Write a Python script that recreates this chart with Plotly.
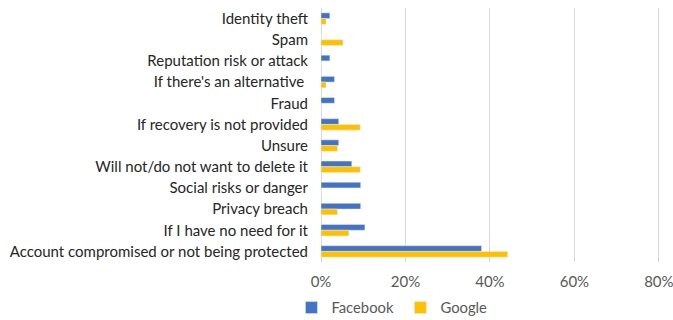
import plotly.graph_objects as go

categories = [
    "Identity theft",
    "Spam",
    "Reputation risk or attack",
    "If there's an alternative ",
    "Fraud",
    "If recovery is not provided",
    "Unsure",
    "Will not/do not want to delete it",
    "Social risks or danger",
    "Privacy breach",
    "If I have no need for it",
    "Account compromised or not being protected",
]
facebook = [2.1, 0, 2.1, 3.2, 3.2, 4.2, 4.2, 7.3, 9.4, 9.4, 10.4, 38.0]
google = [1.2, 5.2, 0, 1.2, 0, 9.3, 3.9, 9.3, 0, 3.9, 6.6, 44.2]
tick_vals = [0, 20, 40, 60, 80]
tick_text = ["0%", "20%", "40%", "60%", "80%"]

font_family = "Lato, sans-serif"

fig = go.Figure()
fig.add_trace(go.Bar(y=categories, x=facebook, name="Facebook", orientation="h",
                     marker=dict(color="#4472C4")))
fig.add_trace(go.Bar(y=categories, x=google, name="Google", orientation="h",
                     marker=dict(color="#FFC000")))

fig.update_layout(
    width=673, height=320,
    margin=dict(l=321, r=12, t=8, b=58),
    paper_bgcolor="white", plot_bgcolor="white",
    barmode="group", bargap=0.46, bargroupgap=0,
    font=dict(family=font_family, size=15, color="#404040"),
    legend=dict(orientation="h", xref="container", yref="container",
                x=0.595, xanchor="center", y=0.0375, yanchor="middle",
                font=dict(size=14.8, color="#595959"), traceorder="normal",
                itemwidth=30, tracegroupgap=0, entrywidth=64, entrywidthmode="pixels"),
    showlegend=True,
)
fig.update_xaxes(range=[0, 80.5], tickvals=tick_vals, ticktext=tick_text,
                 showgrid=True, gridcolor="#D9D9D9", gridwidth=1,
                 zeroline=True, zerolinecolor="#D9D9D9", zerolinewidth=1,
                 tickfont=dict(size=15, color="#595959"), ticks="", showline=False,
                 ticklabelstandoff=9, ticklabeloverflow="allow", automargin=False,
                 fixedrange=True)
fig.update_yaxes(autorange="reversed", tickfont=dict(size=15, color="#262626"),
                 ticks="", showline=False, showgrid=False, ticklabelstandoff=12,
                 automargin=False)

fig.write_html("out.html")
